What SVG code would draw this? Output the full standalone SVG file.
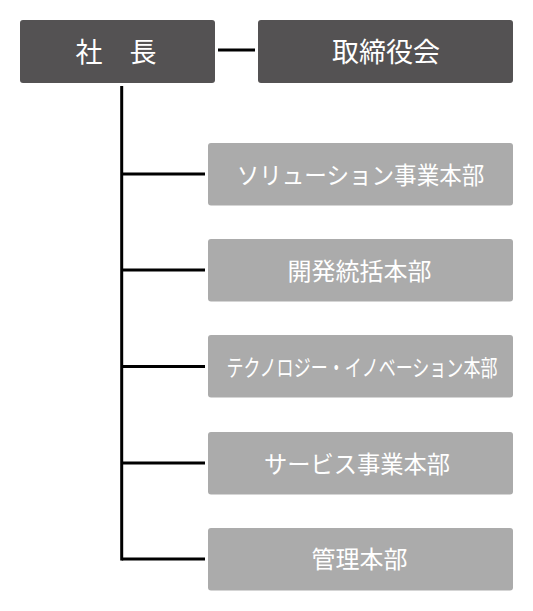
<svg xmlns="http://www.w3.org/2000/svg" width="533" height="611" viewBox="0 0 533 611">
<style>
.dark{fill:#545253}
.gray{fill:#ababab}
.t{font-family:"Noto Sans CJK JP","Noto Sans CJK SC",sans-serif;fill:#ffffff;text-anchor:middle}
.td{font-size:27px}
.tg{font-size:24px}
.ln{stroke:#000000;stroke-width:3;fill:none}
</style>
<rect width="533" height="611" fill="#ffffff"/>
<g id="connectors">
<line class="ln" x1="218" y1="50" x2="255" y2="50"/>
<line class="ln" x1="121.7" y1="86" x2="121.7" y2="560.5"/>
<line class="ln" x1="121.7" y1="174" x2="205" y2="174"/>
<line class="ln" x1="121.7" y1="270" x2="205" y2="270"/>
<line class="ln" x1="121.7" y1="366.5" x2="205" y2="366.5"/>
<line class="ln" x1="121.7" y1="463" x2="205" y2="463"/>
<line class="ln" x1="121.7" y1="559" x2="205" y2="559"/>
</g>
<g id="president">
<rect class="dark" x="20" y="20" width="195" height="63" rx="3"/>
<text class="t td" x="116" y="62">社　長</text>
</g>
<g id="board">
<rect class="dark" x="258" y="20" width="255" height="63" rx="3"/>
<text class="t td" x="386" y="62">取締役会</text>
</g>
<g id="solution">
<rect class="gray" x="208" y="143" width="305" height="62.5" rx="3"/>
<text class="t tg" transform="translate(360.5,183.5) scale(0.94,1)" x="0" y="0">ソリューション事業本部</text>
</g>
<g id="development">
<rect class="gray" x="208" y="239" width="305" height="62.5" rx="3"/>
<text class="t tg" x="359.5" y="279.5">開発統括本部</text>
</g>
<g id="technology">
<rect class="gray" x="208" y="335" width="305" height="62.5" rx="3"/>
<text class="t" style="font-size:23px" transform="translate(362,376) scale(0.74,1)" x="0" y="0">テクノロジー・イノベーション本部</text>
</g>
<g id="service">
<rect class="gray" x="208" y="432" width="305" height="62.5" rx="3"/>
<text class="t tg" transform="translate(357,472.5) scale(0.97,1)" x="0" y="0">サービス事業本部</text>
</g>
<g id="management">
<rect class="gray" x="208" y="528" width="305" height="62.5" rx="3"/>
<text class="t tg" x="359.5" y="568">管理本部</text>
</g>
</svg>
